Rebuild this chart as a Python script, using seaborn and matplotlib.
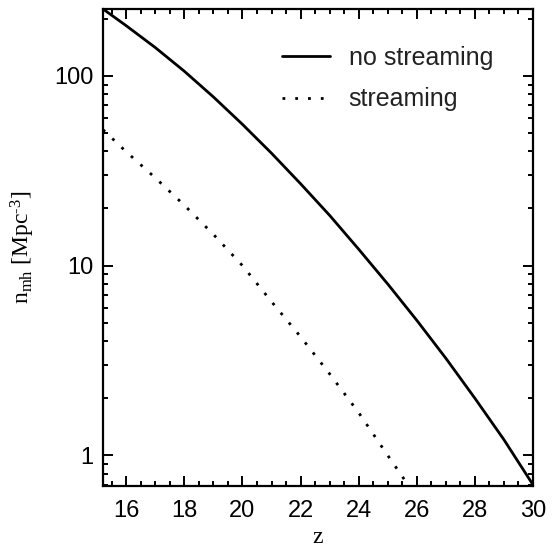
import numpy as np
import pandas as pd
import matplotlib
matplotlib.use("Agg")
import matplotlib.pyplot as plt
from matplotlib.ticker import MultipleLocator, LogLocator, NullFormatter
import seaborn as sns

### values
z_nostream = [15.2, 16, 17, 18, 19, 20, 21, 22, 23, 24, 25, 26, 27, 28, 29, 30]
n_nostream = [225, 183.6, 140.9, 105.7, 77.4, 55.5, 39.1, 27.0, 18.4, 12.2,
              8.0, 5.15, 3.25, 2.0, 1.21, 0.70]

z_stream = [15.2, 16, 17, 18, 19, 20, 21, 22, 23, 24, 25, 26]
n_stream = [52, 39.8, 29.0, 20.8, 14.6, 10.0, 6.46, 4.22, 2.69, 1.68, 1.0, 0.6]

labels = ["no streaming", "streaming"]

df = pd.concat([
    pd.DataFrame({"z": z_nostream, "n": n_nostream, "case": labels[0]}),
    pd.DataFrame({"z": z_stream, "n": n_stream, "case": labels[1]}),
])

sns.set_style("ticks")
plt.rcParams["font.family"] = ["Liberation Sans", "DejaVu Sans"]
plt.rcParams["mathtext.fontset"] = "custom"
plt.rcParams["mathtext.rm"] = "Liberation Serif"
plt.rcParams["mathtext.it"] = "Liberation Serif:italic"
plt.rcParams["axes.edgecolor"] = "black"
plt.rcParams["xtick.color"] = "black"
plt.rcParams["ytick.color"] = "black"
plt.rcParams["axes.labelcolor"] = "black"

fig = plt.figure(figsize=(5.55, 5.48), dpi=100)
ax = fig.add_axes([0.1856, 0.1131, 0.7748, 0.8705])

sns.lineplot(
    data=df, x="z", y="n", hue="case", style="case",
    palette=["black", "black"],
    dashes={labels[0]: "", labels[1]: (1, 3.6)},
    linewidth=2.0, ax=ax, sort=False, estimator=None,
)

ax.set_yscale("log")
ax.set_xlim(15.2, 30)
ax.set_ylim(0.69, 225)

ax.xaxis.set_major_locator(MultipleLocator(2))
ax.xaxis.set_minor_locator(MultipleLocator(0.5))
ax.yaxis.set_minor_locator(LogLocator(base=10, subs=np.arange(2, 10)))
ax.yaxis.set_minor_formatter(NullFormatter())
ax.set_yticks([1, 10, 100])
ax.set_yticklabels(["1", "10", "100"])

ax.tick_params(which="both", direction="in", top=True, right=True,
               labelsize=17, width=1.4)
ax.tick_params(axis="x", pad=10)
ax.tick_params(axis="y", pad=7)
ax.tick_params(which="major", length=7)
ax.tick_params(which="minor", length=3.5)
for s in ax.spines.values():
    s.set_linewidth(1.6)

ax.set_xlabel("z", family="Liberation Serif", fontsize=17, labelpad=4)
ax.set_ylabel(r"n$_{\rm mh}$ [Mpc$^{\text{-3}}$]", family="Liberation Serif",
              fontsize=17, labelpad=12)

leg = ax.legend(loc="upper left", bbox_to_anchor=(0.365, 0.97), frameon=False,
                fontsize=18, handlelength=1.9, handletextpad=0.75,
                labelspacing=0.7)
for t in leg.get_texts():
    t.set_color("#222222")

fig.savefig("out.png", dpi=100)
